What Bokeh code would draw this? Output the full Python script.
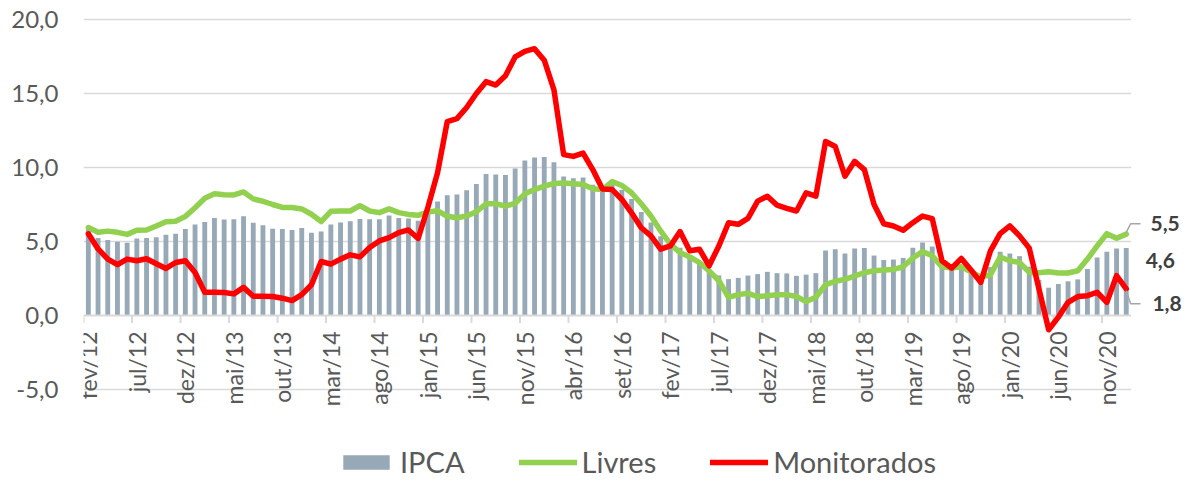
import numpy as np
from bokeh.plotting import figure
from bokeh.models import (Range1d, FixedTicker, ColumnDataSource, LabelSet, Label,
                          Legend, LegendItem)
from bokeh.embed import file_html
from bokeh.resources import INLINE
from bokeh.core.properties import value

# ---------------- data ----------------
tick_labels = ["fev/12", "jul/12", "dez/12", "mai/13", "out/13", "mar/14", "ago/14",
               "jan/15", "jun/15", "nov/15", "abr/16", "set/16", "fev/17", "jul/17",
               "dez/17", "mai/18", "out/18", "mar/19", "ago/19", "jan/20", "jun/20",
               "nov/20"]
y_ticks = [-5, 0, 5, 10, 15, 20]
y_tick_labels = ["-5,0", "0,0", "5,0", "10,0", "15,0", "20,0"]

ipca = [5.85, 5.24, 5.10, 4.99, 4.92, 5.20, 5.24, 5.28, 5.45, 5.53, 5.84,
        6.15, 6.31, 6.59, 6.49, 6.50, 6.70, 6.27, 6.09, 5.86, 5.84, 5.77, 5.91,
        5.59, 5.68, 6.15, 6.28, 6.37, 6.52, 6.50, 6.51, 6.75, 6.59, 6.56, 6.41,
        7.14, 7.70, 8.13, 8.17, 8.47, 8.89, 9.56, 9.53, 9.49, 9.93, 10.48, 10.67,
        10.71, 10.36, 9.39, 9.28, 9.32, 8.84, 8.74, 8.97, 8.48, 7.87, 6.99, 6.29,
        5.35, 4.76, 4.57, 4.08, 3.60, 3.00, 2.71, 2.46, 2.54, 2.70, 2.80, 2.95,
        2.86, 2.84, 2.68, 2.76, 2.86, 4.39, 4.48, 4.19, 4.53, 4.56, 4.05, 3.75,
        3.78, 3.89, 4.58, 4.94, 4.66, 3.37, 3.22, 3.43, 2.89, 2.54, 3.27, 4.31,
        4.19, 4.01, 3.30, 2.40, 1.88, 2.13, 2.31, 2.44, 3.14, 3.92, 4.31, 4.52,
        4.56]

livres = [5.94, 5.62, 5.70, 5.62, 5.48, 5.76, 5.78, 6.05, 6.34, 6.37, 6.70,
          7.28, 7.92, 8.22, 8.16, 8.15, 8.35, 7.88, 7.72, 7.50, 7.30, 7.30, 7.20,
          6.84, 6.35, 7.04, 7.06, 7.06, 7.42, 7.06, 6.95, 7.20, 6.95, 6.83, 6.77,
          7.00, 7.08, 6.70, 6.60, 6.72, 7.01, 7.55, 7.55, 7.39, 7.58, 8.22, 8.51,
          8.74, 8.92, 8.96, 8.90, 8.85, 8.56, 8.51, 9.05, 8.78, 8.29, 7.55, 6.72,
          5.71, 4.82, 4.25, 3.96, 3.58, 3.02, 2.35, 1.23, 1.41, 1.50, 1.28, 1.34,
          1.40, 1.41, 1.28, 0.94, 1.23, 2.08, 2.31, 2.44, 2.67, 2.89, 3.02, 3.07,
          3.11, 3.29, 3.88, 4.32, 4.03, 3.29, 3.20, 3.29, 2.95, 2.60, 2.75, 3.95,
          3.70, 3.58, 2.91, 2.89, 2.96, 2.87, 2.87, 3.02, 3.81, 4.70, 5.53, 5.22,
          5.50]

monitorados = [5.52, 4.50, 3.81, 3.43, 3.81, 3.70, 3.83, 3.50, 3.18, 3.58, 3.70,
               2.90, 1.57, 1.57, 1.55, 1.46, 1.90, 1.30, 1.30, 1.28, 1.17, 1.01, 1.41,
               2.08, 3.65, 3.47, 3.81, 4.10, 3.96, 4.59, 5.04, 5.26, 5.60, 5.78, 5.20,
               7.30, 9.65, 13.10, 13.30, 14.05, 15.00, 15.80, 15.57, 16.20, 17.47, 17.85, 18.03,
               17.25, 15.24, 10.87, 10.75, 10.97, 9.86, 8.55, 8.51, 7.84, 6.94, 5.93, 5.38,
               4.48, 4.70, 5.67, 4.37, 4.48, 3.36, 4.70, 6.27, 6.16, 6.56, 7.73, 8.06,
               7.45, 7.24, 7.06, 8.29, 8.06, 11.76, 11.42, 9.41, 10.42, 9.86, 7.50, 6.20,
               6.05, 5.76, 6.27, 6.72, 6.54, 3.70, 3.20, 3.85, 3.07, 2.24, 4.37, 5.53,
               6.05, 5.38, 4.55, 1.80, -0.96, -0.11, 0.89, 1.28, 1.34, 1.57, 0.89, 2.69,
               1.80]

# ---------------- styling / layout ----------------
FONT = "Lato"
TXT = "#595959"
GRID = "#D9D9D9"
BAR = "#97A9B6"
GREEN = "#92D050"
RED = "#FF0000"

W, H = 1186, 482
LEFT = 83            # width of the y-axis panel
PX_X = 9.7           # pixels per month
PX_Y = 14.8          # pixels per unit
TOP_PAD = 19         # pixels between canvas top and the 20,0 gridline

n = len(ipca)
x = np.arange(n) + 0.5

y_hi = max(y_ticks) + TOP_PAD / PX_Y
y_lo = y_hi - H / PX_Y
x_hi = (W - LEFT) / PX_X

p = figure(width=W, height=H, x_range=Range1d(0, x_hi), y_range=Range1d(y_lo, y_hi),
           output_backend="svg", toolbar_location=None, x_axis_location=None,
           min_border_left=LEFT, min_border_right=0, min_border_top=0, min_border_bottom=0)
p.outline_line_color = None
p.grid.visible = False
p.background_fill_color = "white"
p.border_fill_color = "white"

# y axis
p.yaxis.ticker = FixedTicker(ticks=y_ticks)
p.yaxis.major_label_overrides = {float(t): l for t, l in zip(y_ticks, y_tick_labels)}
p.yaxis.axis_line_color = None
p.yaxis.major_tick_line_color = None
p.yaxis.minor_tick_line_color = None
p.yaxis.major_tick_out = 0
p.yaxis.major_tick_in = 0
p.yaxis.minor_tick_out = 0
p.yaxis.major_label_standoff = 25
p.yaxis.major_label_text_font = FONT
p.yaxis.major_label_text_font_size = "24px"
p.yaxis.major_label_text_color = TXT

# grid lines (only over the category span)
grid_vals = [t for t in y_ticks if t != 0]
p.segment(x0=[0] * len(grid_vals), x1=[n] * len(grid_vals), y0=grid_vals, y1=grid_vals,
          line_color=GRID, line_width=1.4)

# bars
bars = p.vbar(x=x, top=ipca, width=0.5, fill_color=BAR, line_color=None)

# category axis at zero
p.segment(x0=[0], x1=[n], y0=[0], y1=[0], line_color=GRID, line_width=2)
tick_pos = np.arange(0, n, 5)
p.segment(x0=tick_pos, x1=tick_pos, y0=[0] * len(tick_pos), y1=[-0.5] * len(tick_pos),
          line_color=GRID, line_width=2)

# lines
l_liv = p.line(x, livres, line_color=GREEN, line_width=5.5, line_join="round", line_cap="round")
l_mon = p.line(x, monitorados, line_color=RED, line_width=5.5, line_join="round", line_cap="round")

# x tick labels (rotated, hanging below the zero line)
src = ColumnDataSource(dict(x=tick_pos + 0.5, y=[0] * len(tick_pos), text=tick_labels))
p.add_layout(LabelSet(x="x", y="y", text="text", source=src, angle=np.pi / 2,
                      text_align="right", text_baseline="middle", y_offset=-16,
                      text_font=value(FONT), text_font_size="23px", text_color=TXT))

# end-value labels with leader lines
def fmt(v):
    return f"{v:.1f}".replace(".", ",")

last = n - 0.5
p.line([last, last + 0.45, last + 1.47], [livres[-1] + 0.12, livres[-1] + 0.7, livres[-1] + 0.7],
       line_color="#A6A6A6", line_width=1.5)
p.line([last, last + 0.45, last + 1.47], [monitorados[-1] - 0.12, monitorados[-1] - 1.0, monitorados[-1] - 1.0],
       line_color="#A6A6A6", line_width=1.5)
for xv, yv, val in [(n + 2.0, livres[-1] + 0.7, livres[-1]),
                    (n + 1.5, ipca[-1] - 0.85, ipca[-1]),
                    (n + 2.2, monitorados[-1] - 1.0, monitorados[-1])]:
    p.add_layout(Label(x=xv, y=yv, text=fmt(val), text_font=FONT, text_font_size="21px",
                       text_font_style="bold", text_color="#404040",
                       text_align="left", text_baseline="middle"))

# legend
legend = Legend(items=[LegendItem(label="IPCA", renderers=[bars]),
                       LegendItem(label="Livres", renderers=[l_liv]),
                       LegendItem(label="Monitorados", renderers=[l_mon])],
                orientation="horizontal", location=(254, 3),
                glyph_width=58, glyph_height=18, label_standoff=5, spacing=54,
                padding=0, margin=0, border_line_color=None, background_fill_alpha=0,
                label_text_font=FONT, label_text_font_size="29px", label_text_color=TXT)
p.add_layout(legend)

open("out.html", "w").write(file_html(p, INLINE))
